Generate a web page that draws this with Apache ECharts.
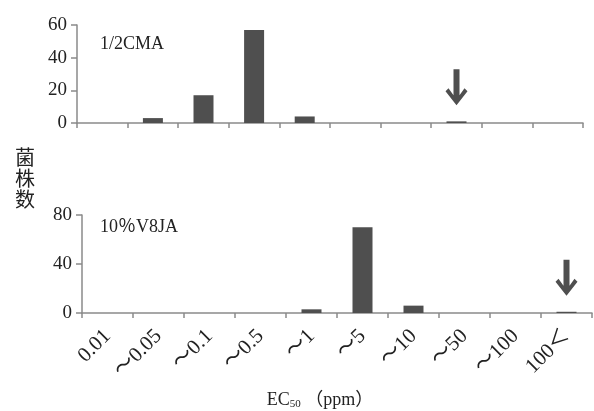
<!DOCTYPE html>
<html>
<head>
<meta charset="utf-8">
<script src="https://cdn.jsdelivr.net/npm/echarts@6/dist/echarts.min.js"></script>
<style>
  html, body { margin: 0; padding: 0; background: #fff; }
  #chart { width: 594px; height: 411px; }
</style>
</head>
<body>
<div id="chart"></div>
<script>
// EC50 区间
var categories = ["0.01", "～0.05", "～0.1", "～0.5", "～1", "～5", "～10", "～50", "～100", "100＜"];
// 菌株数
var cmaCounts = [0, 3, 17, 57, 4, 0, 0, 1, 0, 0];
var v8jaCounts = [0, 0, 0, 0, 3, 70, 6, 0, 0, 1];
var cmaTicks = { min: 0, max: 60, interval: 20 };
var v8jaTicks = { min: 0, max: 80, interval: 40 };
// 箭头所指的区间
var cmaArrowAt = "～50";
var v8jaArrowAt = "100＜";

var serif = '"Liberation Serif", "DejaVu Serif", "Noto Sans CJK JP", serif';
var axisGrey = "#8a8a8a";
var barColor = "#4f4f4f";
var arrowPath = "path://M8,0 L14,0 L14,26 L19,19 L22,22 L11,36 L0,22 L3,19 L8,26 Z";

var myChart = echarts.init(document.getElementById("chart"));

function xAxisOf(gridIndex, showLabel) {
  return {
    type: "category",
    gridIndex: gridIndex,
    data: categories,
    boundaryGap: true,
    axisLine: { lineStyle: { color: axisGrey, width: 1.5 } },
    axisTick: { show: true, inside: false, length: 5, alignWithLabel: false, lineStyle: { color: axisGrey, width: 1.5 } },
    axisLabel: {
      show: showLabel,
      interval: 0,
      rotate: 45,
      margin: 20,
      color: "#222",
      fontFamily: serif,
      fontSize: 21
    },
    splitLine: { show: false }
  };
}

function yAxisOf(gridIndex, ticks) {
  return {
    type: "value",
    gridIndex: gridIndex,
    min: ticks.min,
    max: ticks.max,
    interval: ticks.interval,
    axisLine: { show: true, lineStyle: { color: axisGrey, width: 1.5 } },
    axisTick: { show: true, length: 6, lineStyle: { color: axisGrey, width: 1.5 } },
    axisLabel: { margin: 10, color: "#222", fontFamily: serif, fontSize: 19 },
    splitLine: { show: false }
  };
}

function barsOf(idx, values, arrowAt, arrowValue) {
  return {
    type: "bar",
    xAxisIndex: idx,
    yAxisIndex: idx,
    data: values,
    barWidth: 20,
    itemStyle: { color: barColor },
    silent: true,
    markPoint: {
      silent: true,
      label: { show: false },
      data: [{
        coord: [arrowAt, arrowValue],
        symbol: arrowPath,
        symbolSize: [22, 36],
        symbolOffset: [0, -34],
        itemStyle: { color: barColor }
      }]
    }
  };
}

var option = {
  animation: false,
  backgroundColor: "#fff",
  grid: [
    { left: 77, right: 11, top: 25, height: 98 },
    { left: 82, right: 2, top: 215, height: 98 }
  ],
  xAxis: [xAxisOf(0, false), xAxisOf(1, true)],
  yAxis: [yAxisOf(0, cmaTicks), yAxisOf(1, v8jaTicks)],
  series: [
    barsOf(0, cmaCounts, cmaArrowAt, 1),
    barsOf(1, v8jaCounts, v8jaArrowAt, 1)
  ],
  graphic: [
    { type: "text", left: 100, top: 35, style: { text: "1/2CMA", font: "18px " + serif, fill: "#222" } },
    { type: "text", left: 100, top: 218, style: { text: "10％V8JA", font: "18px " + serif, fill: "#222" } },
    { type: "text", left: 15, top: 147, style: { text: "菌\n株\n数", font: "20px 'Noto Sans CJK SC'", fill: "#222", lineHeight: 21 } },
    {
      type: "text", x: 320, y: 400,
      style: {
        text: "{a|EC}{s|50}{a| （ppm）}",
        align: "center",
        verticalAlign: "middle",
        rich: {
          a: { fontFamily: serif, fontSize: 18, fill: "#222" },
          s: { fontFamily: serif, fontSize: 11, fill: "#222", padding: [8, 0, 0, 0] }
        }
      }
    }
  ]
};

myChart.setOption(option);
</script>
</body>
</html>
